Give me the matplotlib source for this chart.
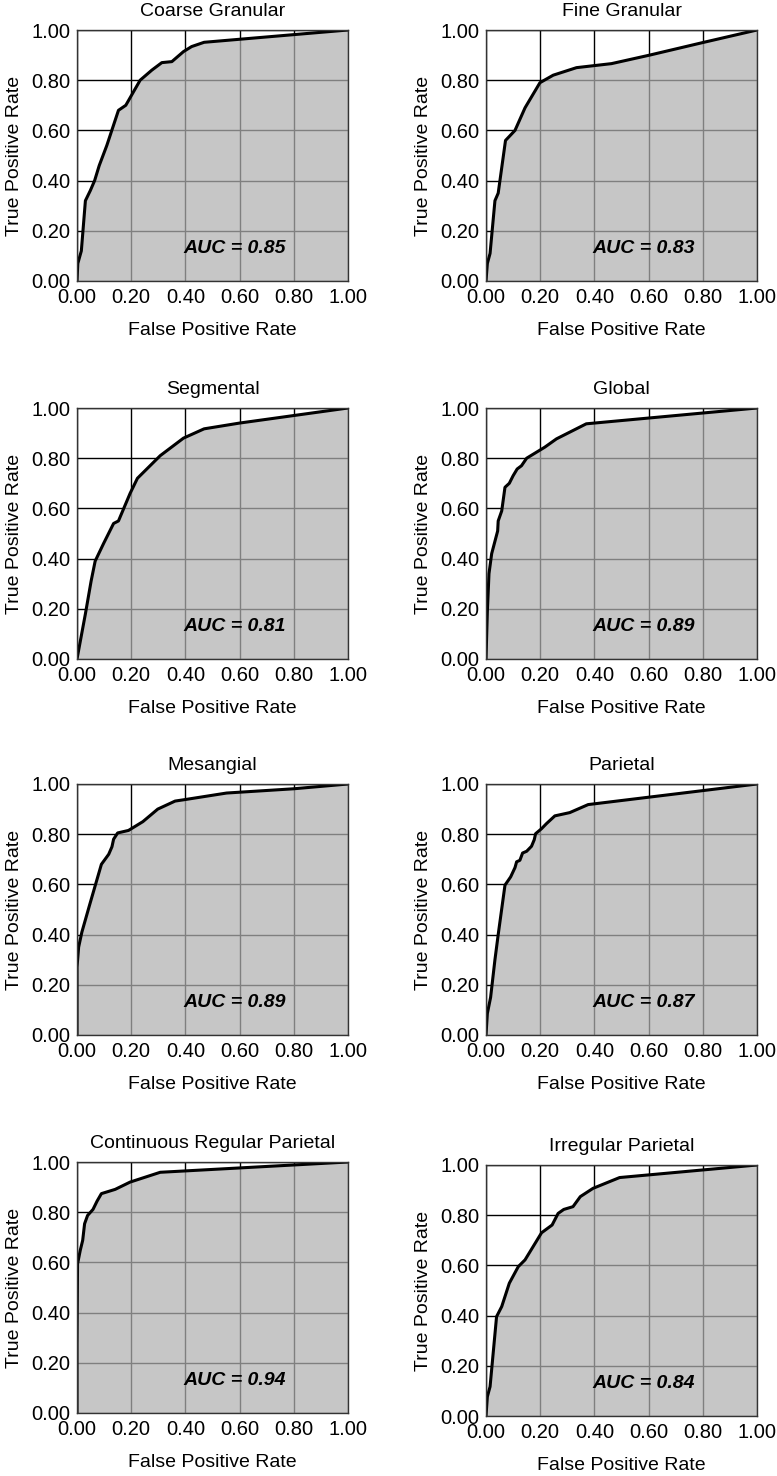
import numpy as np
import matplotlib
matplotlib.use("Agg")
import matplotlib.pyplot as plt

plt.rcParams['font.family'] = ['Liberation Sans', 'DejaVu Sans']

titles = ["Coarse Granular", "Fine Granular", "Segmental", "Global",
          "Mesangial", "Parietal", "Continuous Regular Parietal", "Irregular Parietal"]
auc_values = [0.85, 0.83, 0.81, 0.89, 0.89, 0.87, 0.94, 0.84]

# ROC points (fpr, tpr)
fpr_coarse = [0, 0.003, 0.016, 0.031, 0.049, 0.065, 0.082, 0.11, 0.153, 0.18, 0.233, 0.276, 0.313, 0.35, 0.393, 0.423, 0.469, 1.0]
tpr_coarse = [0, 0.07, 0.12, 0.32, 0.36, 0.40, 0.46, 0.54, 0.68, 0.70, 0.80, 0.84, 0.87, 0.874, 0.914, 0.934, 0.951, 1.0]

fpr_fine = [0, 0.005, 0.015, 0.033, 0.045, 0.072, 0.107, 0.144, 0.199, 0.248, 0.334, 0.463, 0.604, 0.8, 1.0]
tpr_fine = [0, 0.07, 0.11, 0.32, 0.35, 0.56, 0.60, 0.69, 0.79, 0.82, 0.85, 0.866, 0.90, 0.95, 1.0]

fpr_seg = [0, 0.031, 0.052, 0.067, 0.098, 0.135, 0.153, 0.196, 0.223, 0.307, 0.393, 0.469, 0.6, 0.8, 1.0]
tpr_seg = [0, 0.18, 0.31, 0.39, 0.46, 0.54, 0.55, 0.66, 0.72, 0.81, 0.88, 0.917, 0.94, 0.97, 1.0]

fpr_glob = [0, 0.005, 0.011, 0.021, 0.043, 0.045, 0.058, 0.07, 0.086, 0.1, 0.115, 0.131, 0.15, 0.217, 0.26, 0.37, 1.0]
tpr_glob = [0, 0.19, 0.34, 0.42, 0.51, 0.55, 0.59, 0.684, 0.70, 0.73, 0.757, 0.77, 0.80, 0.844, 0.877, 0.937, 1.0]

fpr_mes = [0, 0, 0.006, 0.018, 0.047, 0.09, 0.117, 0.129, 0.135, 0.15, 0.19, 0.243, 0.298, 0.362, 0.399, 0.552, 0.8, 1.0]
tpr_mes = [0, 0.27, 0.35, 0.41, 0.52, 0.68, 0.72, 0.75, 0.78, 0.805, 0.815, 0.85, 0.90, 0.932, 0.938, 0.964, 0.981, 1.0]

fpr_par = [0, 0.005, 0.017, 0.033, 0.045, 0.07, 0.091, 0.107, 0.113, 0.125, 0.135, 0.15, 0.168, 0.178, 0.183, 0.205, 0.223, 0.254, 0.309, 0.377, 1.0]
tpr_par = [0, 0.086, 0.15, 0.30, 0.40, 0.597, 0.63, 0.667, 0.69, 0.696, 0.725, 0.732, 0.752, 0.778, 0.802, 0.822, 0.842, 0.873, 0.886, 0.918, 1.0]

fpr_crp = [0, 0, 0.002, 0.012, 0.021, 0.028, 0.039, 0.059, 0.074, 0.09, 0.141, 0.196, 0.307, 1.0]
tpr_crp = [0, 0.275, 0.594, 0.648, 0.688, 0.754, 0.787, 0.811, 0.844, 0.874, 0.891, 0.92, 0.959, 1.0]

fpr_irr = [0, 0.005, 0.015, 0.039, 0.058, 0.086, 0.119, 0.144, 0.205, 0.244, 0.266, 0.287, 0.321, 0.348, 0.395, 0.493, 1.0]
tpr_irr = [0, 0.077, 0.117, 0.396, 0.436, 0.529, 0.595, 0.622, 0.73, 0.761, 0.807, 0.823, 0.834, 0.874, 0.907, 0.95, 1.0]

curves = [(fpr_coarse, tpr_coarse), (fpr_fine, tpr_fine), (fpr_seg, tpr_seg), (fpr_glob, tpr_glob),
          (fpr_mes, tpr_mes), (fpr_par, tpr_par), (fpr_crp, tpr_crp), (fpr_irr, tpr_irr)]

ticks = [0, 0.2, 0.4, 0.6, 0.8, 1.0]
tick_labels = ["0.00", "0.20", "0.40", "0.60", "0.80", "1.00"]

W, H = 777, 1476
fig = plt.figure(figsize=(W / 100, H / 100), dpi=100)

lefts = [77, 486]
tops = [[30, 30], [408, 408], [784, 784], [1162, 1165]]
aw, ah = 271, 251

for i, (title, auc, (fpr, tpr)) in enumerate(zip(titles, auc_values, curves)):
    r, c = divmod(i, 2)
    ax = fig.add_axes([lefts[c] / W, 1 - (tops[r][c] + ah) / H, aw / W, ah / H])
    ax.set_axisbelow(True)
    ax.grid(True, color='black', linewidth=1.0)
    # translucent fill: black grid turns gray below the curve
    ax.fill_between(fpr, tpr, 0, color='#b1b1b1', alpha=0.72, linewidth=0)
    ax.plot(fpr, tpr, color='black', linewidth=2.2, solid_joinstyle='round')
    ax.set_xlim(0, 1)
    ax.set_ylim(0, 1)
    ax.set_xticks(ticks)
    ax.set_yticks(ticks)
    ax.set_xticklabels(tick_labels)
    ax.set_yticklabels(tick_labels)
    ax.tick_params(length=0, labelsize=14.5, pad=5)
    for s in ax.spines.values():
        s.set_color('#333333')
        s.set_linewidth(1.0)
    ax.set_title(title, fontsize=14, pad=10)
    ax.set_xlabel("False Positive Rate", fontsize=14, labelpad=11)
    ax.set_ylabel("True Positive Rate", fontsize=14, labelpad=6)
    ax.text(0.58, 0.13, "AUC = %.2f" % auc, ha='center', va='center',
            fontsize=14, fontweight='bold', fontstyle='italic')

fig.savefig("out.png", dpi=100)
